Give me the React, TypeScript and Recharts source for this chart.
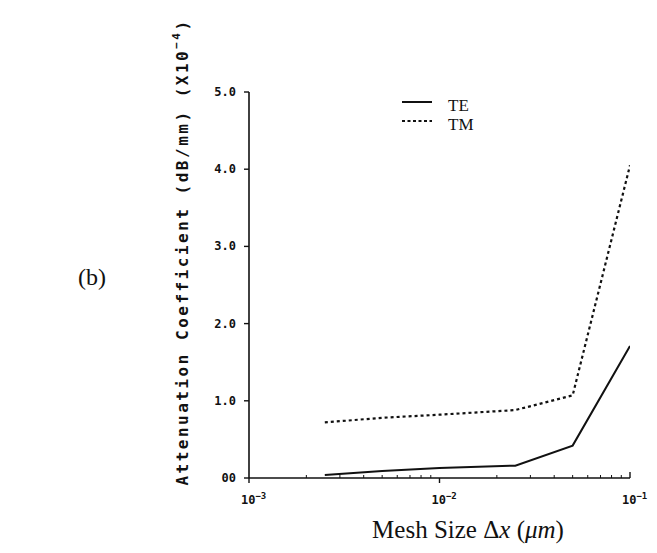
import React from 'react'
import { LineChart, Line, XAxis, YAxis, Legend } from 'recharts'

/* data */
const meshSizes = [0.0025, 0.005, 0.01, 0.025, 0.05, 0.1]
const teValues = [0.04, 0.09, 0.13, 0.16, 0.42, 1.71]
const tmValues = [0.72, 0.78, 0.82, 0.88, 1.07, 4.05]

const xMajorTicks = [0.001, 0.01, 0.1]
const xMinorTicks = [
  0.002, 0.003, 0.004, 0.005, 0.006, 0.007, 0.008, 0.009,
  0.02, 0.03, 0.04, 0.05, 0.06, 0.07, 0.08, 0.09,
]
const xTickExponents = ['3', '2', '1']
const yTicks = [0, 1, 2, 3, 4, 5]
const yTickLabels = ['00', '1.0', '2.0', '3.0', '4.0', '5.0']

const data = meshSizes.map((x, i) => ({ x, te: teValues[i], tm: tmValues[i] }))

const TICK_FONT = '"DejaVu Sans Mono", monospace'
const SERIF = '"Liberation Serif", "DejaVu Serif", serif'

function XTick(props: any) {
  const { x, y, payload } = props
  const idx = xMajorTicks.indexOf(payload.value)
  if (idx < 0) {
    return <line x1={x} x2={x} y1={y} y2={y - 3} stroke="#111" strokeWidth={1} />
  }
  const last = idx === xMajorTicks.length - 1
  return (
    <g>
      <line x1={x} x2={x} y1={y} y2={last ? y - 6 : y + 5} stroke="#111" strokeWidth={1.4} />
      <text x={x - 8} y={y + 26} textAnchor="start" fontFamily={TICK_FONT} fontWeight="bold" fontSize={12} fill="#111">
        10
        <tspan fontSize={9} dy={-5}>{'\u2212' + xTickExponents[idx]}</tspan>
      </text>
    </g>
  )
}

function YTick(props: any) {
  const { x, y, payload } = props
  const idx = yTicks.indexOf(payload.value)
  return (
    <g>
      <line x1={x} x2={x - 5} y1={y} y2={y} stroke="#111" strokeWidth={1.4} />
      <text x={x - 13} y={y + 4} textAnchor="end" fontFamily={TICK_FONT} fontWeight="bold" fontSize={12} fill="#111">
        {yTickLabels[idx]}
      </text>
    </g>
  )
}

function LegendBox() {
  const row = { display: 'flex', alignItems: 'center', height: 19 }
  return (
    <div style={{ fontFamily: SERIF, fontSize: 17, color: '#111', lineHeight: 1 }}>
      <div style={row}>
        <svg width={32} height={14}>
          <line x1={0} x2={30} y1={3} y2={3} stroke="#111" strokeWidth={2} />
        </svg>
        <span style={{ marginLeft: 14 }}>TE</span>
      </div>
      <div style={row}>
        <svg width={32} height={14}>
          <line x1={0} x2={30} y1={3} y2={3} stroke="#111" strokeWidth={2} strokeDasharray="3 2.5" />
        </svg>
        <span style={{ marginLeft: 14 }}>TM</span>
      </div>
    </div>
  )
}

function XTitle() {
  return (
    <text x={468} y={538} textAnchor="middle" fontFamily={SERIF} fontSize={25} fill="#111">
      Mesh Size Δ<tspan fontStyle="italic">x</tspan> (<tspan fontStyle="italic">μm</tspan>)
    </text>
  )
}

function YTitle() {
  return (
    <text
      x={182}
      y={252}
      transform="rotate(-90 182 252)"
      textAnchor="middle"
      dominantBaseline="central"
      fontFamily={TICK_FONT}
      fontWeight="bold"
      fontSize={16}
      letterSpacing={2.5}
      fill="#111"
    >
      Attenuation Coefficient (dB/mm) (X10<tspan fontSize={11} dy={-6}>{'\u22124'}</tspan>
      <tspan dy={6}>)</tspan>
    </text>
  )
}

export default function App() {
  return (
    <div style={{ position: 'absolute', left: 0, top: 0, width: 657, height: 553, background: '#fff' }}>
      <div
        style={{
          position: 'absolute',
          left: 78,
          top: 264,
          fontFamily: SERIF,
          fontSize: 24,
          color: '#111',
        }}
      >
        (b)
      </div>
      <LineChart
        width={657}
        height={553}
        data={data}
        margin={{ top: 92, right: 27, bottom: 45, left: 209 }}
      >
        <XAxis
          dataKey="x"
          type="number"
          scale="log"
          domain={[0.001, 0.1]}
          ticks={[...xMajorTicks, ...xMinorTicks]}
          interval={0}
          allowDataOverflow
          height={30}
          tickSize={0}
          tickMargin={0}
          tickLine={false}
          tick={<XTick />}
          axisLine={{ stroke: '#111', strokeWidth: 1.6 }}
          label={<XTitle />}
        />
        <YAxis
          type="number"
          domain={[0, 5]}
          ticks={yTicks}
          interval={0}
          width={40}
          tickSize={0}
          tickMargin={0}
          tickLine={false}
          tick={<YTick />}
          axisLine={{ stroke: '#111', strokeWidth: 1.6 }}
          label={<YTitle />}
        />
        <Legend
          content={<LegendBox />}
          layout="vertical"
          verticalAlign="middle"
          align="center"
          wrapperStyle={{ position: 'absolute', left: 402, top: 96, width: 90 }}
        />
        <Line
          dataKey="te"
          name="TE"
          stroke="#111"
          strokeWidth={2}
          dot={false}
          isAnimationActive={false}
        />
        <Line
          dataKey="tm"
          name="TM"
          stroke="#111"
          strokeWidth={2.2}
          strokeDasharray="3 3"
          dot={false}
          isAnimationActive={false}
        />
      </LineChart>
    </div>
  )
}
